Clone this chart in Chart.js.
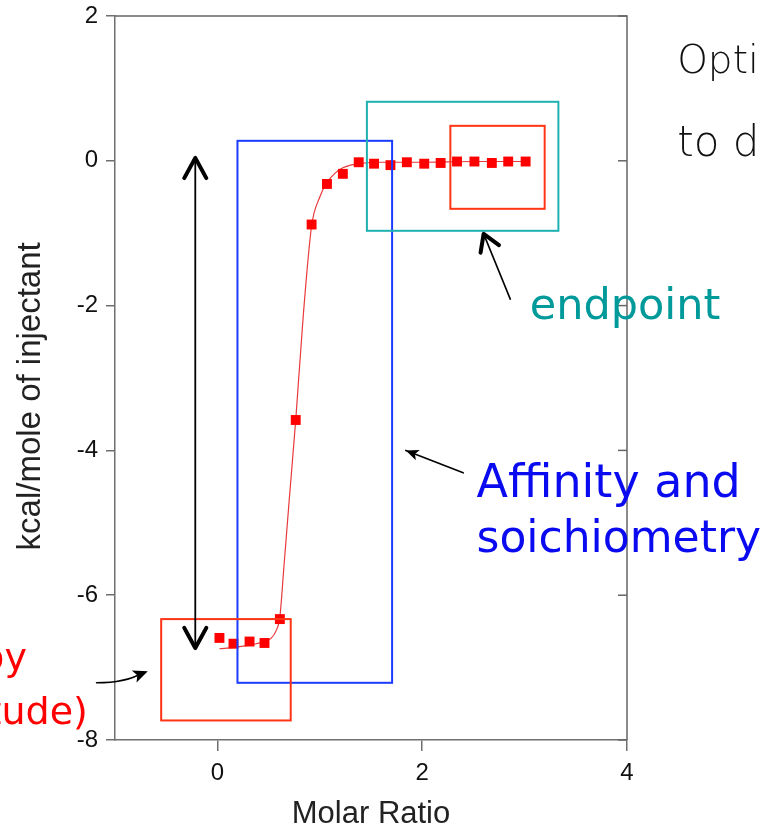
<!DOCTYPE html>
<html>
<head>
<meta charset="utf-8">
<script src="https://cdn.jsdelivr.net/npm/chart.js@4/dist/chart.umd.min.js"></script>
<style>
html, body { margin: 0; padding: 0; background: #fff; }
canvas { display: block; }
</style>
</head>
<body>
<canvas id="itc" width="760" height="833"></canvas>
<script>
// injections: molar ratio vs heat (kcal/mole of injectant)
const molarRatio = [0.02, 0.157, 0.314, 0.46, 0.61, 0.765, 0.92, 1.07, 1.225, 1.38,
                    1.53, 1.69, 1.85, 2.02, 2.18, 2.34, 2.51, 2.68, 2.84, 3.01];
const heat = [-6.59, -6.67, -6.64, -6.66, -6.33, -3.58, -0.88, -0.32, -0.18, -0.02,
              -0.04, -0.06, -0.02, -0.04, -0.03, -0.01, -0.01, -0.03, -0.01, -0.01];

// fitted binding curve
const fitRatio = [0.02, 0.16, 0.31, 0.46, 0.52, 0.57, 0.61, 0.65, 0.70, 0.765, 0.84,
                  0.92, 1.0, 1.07, 1.15, 1.22, 1.30, 1.38, 1.6, 2.0, 2.5, 3.01];
const fitHeat = [-6.74, -6.72, -6.69, -6.64, -6.60, -6.50, -6.30, -5.60, -4.71, -3.58, -2.11,
                 -0.90, -0.50, -0.30, -0.17, -0.10, -0.06, -0.04, -0.02, -0.02, -0.01, -0.01];

const xTicks = [0, 2, 4];
const yTicks = [2, 0, -2, -4, -6, -8];

// annotations (data units)
const boxes = [
  { x0: 0.196, x1: 1.706, y0: 0.276, y1: -7.21, color: '#1a3cff' },
  { x0: 1.46, x1: 3.33, y0: 0.815, y1: -0.967, color: '#1fb0b0' },
  { x0: 2.275, x1: 3.196, y0: 0.483, y1: -0.663, color: '#ff3414' },
  { x0: -0.549, x1: 0.716, y0: -6.33, y1: -7.73, color: '#ff3414' }
];
const notes = [
  { text: 'endpoint', x: 3.05, y: -2.18, color: '#009a9a', size: 43, align: 'left', weight: 'normal' },
  { text: 'Affinity and', x: 2.53, y: -4.64, color: '#0a0af0', size: 46, align: 'left', weight: 'normal' },
  { text: 'soichiometry', x: 2.53, y: -5.40, color: '#0a0af0', size: 44, align: 'left', weight: 'normal' },
  { text: 'Enthalpy', x: -1.86, y: -7.04, color: '#ff0000', size: 38, align: 'right', weight: 'normal' },
  { text: '(magnitude)', x: -1.265, y: -7.78, color: '#ff0000', size: 38, align: 'right', weight: 'normal' },
  { text: 'Optimize', x: 4.49, y: 1.215, color: '#111111', size: 39, align: 'left', weight: '200' },
  { text: 'to determine', x: 4.49, y: 0.07, color: '#111111', size: 42, align: 'left', weight: '200' }
];

const handFont = '"Comic Sans MS", "DejaVu Sans", sans-serif';

function chevron(ctx, tx, ty, fx, fy, len, spread) {
  const a = Math.atan2(ty - fy, tx - fx);
  ctx.beginPath();
  ctx.moveTo(tx - len * Math.cos(a - spread), ty - len * Math.sin(a - spread));
  ctx.lineTo(tx, ty);
  ctx.lineTo(tx - len * Math.cos(a + spread), ty - len * Math.sin(a + spread));
  ctx.stroke();
}

function solidHead(ctx, tx, ty, fx, fy, len, spread) {
  const a = Math.atan2(ty - fy, tx - fx);
  ctx.beginPath();
  ctx.moveTo(tx, ty);
  ctx.lineTo(tx - len * Math.cos(a - spread), ty - len * Math.sin(a - spread));
  ctx.lineTo(tx - len * 0.7 * Math.cos(a), ty - len * 0.7 * Math.sin(a));
  ctx.lineTo(tx - len * Math.cos(a + spread), ty - len * Math.sin(a + spread));
  ctx.closePath();
  ctx.fill();
}

const annotate = {
  id: 'annotate',
  afterDatasetsDraw(chart) {
    const ctx = chart.ctx;
    const xs = chart.scales.x, ys = chart.scales.y;
    const px = v => xs.getPixelForValue(v);
    const py = v => ys.getPixelForValue(v);
    const area = chart.chartArea;
    ctx.save();

    // top + right frame, with inward ticks on the right side
    ctx.strokeStyle = '#666';
    ctx.lineWidth = 1.5;
    ctx.beginPath();
    ctx.moveTo(area.left, area.top);
    ctx.lineTo(area.right, area.top);
    ctx.lineTo(area.right, area.bottom);
    ctx.stroke();
    yTicks.forEach(v => {
      ctx.beginPath();
      ctx.moveTo(area.right - 9, py(v));
      ctx.lineTo(area.right, py(v));
      ctx.stroke();
    });

    // boxes
    ctx.lineWidth = 2;
    boxes.forEach(b => {
      ctx.strokeStyle = b.color;
      ctx.strokeRect(px(b.x0), py(b.y0), px(b.x1) - px(b.x0), py(b.y1) - py(b.y0));
    });

    // double arrow (range of the enthalpy)
    ctx.strokeStyle = '#000';
    ctx.fillStyle = '#000';
    ctx.lineWidth = 1.8;
    const ax = px(-0.216), aTop = py(0.04), aBot = py(-6.73);
    ctx.beginPath();
    ctx.moveTo(ax, aTop + 2);
    ctx.lineTo(ax, aBot - 2);
    ctx.stroke();
    ctx.lineWidth = 4;
    ctx.lineCap = 'round';
    ctx.lineJoin = 'round';
    chevron(ctx, ax, aTop, ax, aBot, 23, 0.5);
    chevron(ctx, ax, aBot, ax, aTop, 23, 0.5);

    // endpoint arrow
    const e0x = px(2.86), e0y = py(-1.91), e1x = px(2.60), e1y = py(-1.01);
    ctx.lineWidth = 1.6;
    ctx.beginPath();
    ctx.moveTo(e0x, e0y);
    ctx.lineTo(e1x, e1y);
    ctx.stroke();
    ctx.lineWidth = 4;
    chevron(ctx, e1x, e1y, e0x, e0y, 19, 0.55);

    // affinity arrow
    const f0x = px(2.40), f0y = py(-4.31), f1x = px(1.84), f1y = py(-4.0);
    ctx.lineWidth = 1.6;
    ctx.beginPath();
    ctx.moveTo(f0x, f0y);
    ctx.lineTo(f1x, f1y);
    ctx.stroke();
    solidHead(ctx, f1x, f1y, f0x, f0y, 14, 0.4);

    // enthalpy arrow (slightly curved)
    const g0x = px(-1.18), g0y = py(-7.21), g1x = px(-0.68), g1y = py(-7.05);
    ctx.beginPath();
    ctx.moveTo(g0x, g0y);
    ctx.quadraticCurveTo(px(-0.90), py(-7.21), g1x - 6, g1y + 2);
    ctx.stroke();
    solidHead(ctx, g1x, g1y, px(-0.88), py(-7.16), 16, 0.42);

    // handwritten notes
    ctx.textBaseline = 'alphabetic';
    notes.forEach(n => {
      ctx.font = n.weight + ' ' + n.size + 'px ' + handFont;
      ctx.fillStyle = n.color;
      ctx.textAlign = n.align;
      ctx.fillText(n.text, px(n.x), py(n.y));
    });

    ctx.restore();
  }
};

const axisGrey = '#6f6f6f';
const labelFont = 'Liberation Sans, Arial, sans-serif';

new Chart(document.getElementById('itc'), {
  type: 'scatter',
  data: {
    datasets: [
      {
        label: 'fit',
        data: fitRatio.map((x, i) => ({ x: x, y: fitHeat[i] })),
        showLine: true,
        borderColor: '#e8393c',
        borderWidth: 1.2,
        pointRadius: 0,
        cubicInterpolationMode: 'monotone',
        order: 2
      },
      {
        label: 'injections',
        data: molarRatio.map((x, i) => ({ x: x, y: heat[i] })),
        pointStyle: 'rect',
        pointRadius: 7,
        pointBackgroundColor: '#ff0000',
        pointBorderColor: '#ff0000',
        pointBorderWidth: 0,
        order: 1
      }
    ]
  },
  options: {
    responsive: false,
    animation: false,
    devicePixelRatio: 1,
    layout: { padding: { top: 16, right: 133, left: 0, bottom: 0 } },
    plugins: { legend: { display: false }, tooltip: { enabled: false } },
    scales: {
      x: {
        type: 'linear',
        min: -1,
        max: 4,
        afterBuildTicks: s => { s.ticks = xTicks.map(v => ({ value: v })); },
        afterFit: s => { s.height = 93; s.paddingLeft = 0; s.paddingRight = 0; },
        grid: { drawOnChartArea: false, drawTicks: true, tickLength: 11, color: axisGrey, lineWidth: 1.5 },
        border: { display: true, color: axisGrey, width: 1.5 },
        ticks: { font: { family: labelFont, size: 24 }, color: '#111', padding: 8 },
        title: { display: true, text: 'Molar Ratio', color: '#222',
                 font: { family: labelFont, size: 31 }, padding: { top: 0, bottom: 0 } }
      },
      y: {
        type: 'linear',
        min: -8,
        max: 2,
        afterBuildTicks: s => { s.ticks = yTicks.map(v => ({ value: v })); },
        afterFit: s => { s.width = 115; s.paddingTop = 0; s.paddingBottom = 0; },
        grid: { drawOnChartArea: false, drawTicks: true, tickLength: 9, color: axisGrey, lineWidth: 1.5 },
        border: { display: true, color: axisGrey, width: 1.5 },
        ticks: { font: { family: labelFont, size: 24 }, color: '#111', padding: 8 },
        title: { display: true, text: 'kcal/mole of injectant    ', color: '#222',
                 font: { family: labelFont, size: 33 }, padding: { top: 11, bottom: 0 } }
      }
    }
  },
  plugins: [annotate]
});
</script>
</body>
</html>
